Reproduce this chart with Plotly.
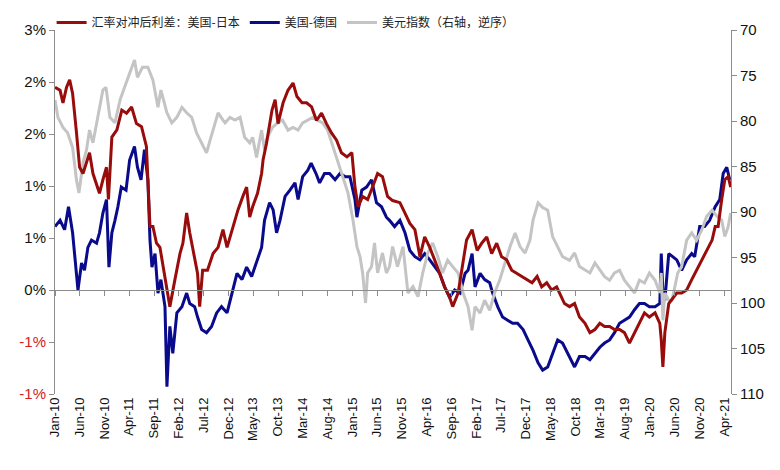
import plotly.graph_objects as go

# ---- data ----
jp_dates = ["2010-01-01","2010-02-01","2010-02-19","2010-03-13","2010-04-01","2010-04-19","2010-05-13","2010-06-01","2010-06-22","2010-07-13",
 "2010-08-01","2010-08-22","2010-09-16","2010-10-01","2010-10-22","2010-11-13","2010-11-25","2010-12-16","2011-01-16","2011-02-15",
 "2011-03-16","2011-04-16","2011-05-16","2011-06-16","2011-07-16","2011-08-07","2011-08-25","2011-09-16","2011-10-07","2011-11-07",
 "2011-12-07","2012-01-07","2012-02-07","2012-02-25","2012-03-19","2012-04-07","2012-04-25","2012-05-25","2012-06-07","2012-06-25",
 "2012-07-25","2012-08-28","2012-09-28","2012-10-28","2012-11-22","2012-12-28","2013-01-28","2013-02-27","2013-03-22","2013-04-10",
 "2013-04-28","2013-05-28","2013-06-22","2013-07-01","2013-07-22","2013-08-25","2013-09-13","2013-10-01","2013-11-01","2013-12-01",
 "2014-01-01","2014-01-25","2014-02-25","2014-03-25","2014-04-25","2014-05-25","2014-06-25","2014-07-25","2014-08-25","2014-09-25",
 "2014-10-25","2014-11-28","2014-12-28","2015-01-16","2015-02-04","2015-03-04","2015-04-04","2015-05-04","2015-06-04","2015-07-04",
 "2015-08-04","2015-09-04","2015-10-19","2015-11-19","2015-12-19","2016-01-19","2016-02-19","2016-03-19","2016-04-19","2016-05-19",
 "2016-06-19","2016-07-19","2016-08-19","2016-09-07","2016-10-10","2016-11-10","2016-12-01","2017-01-04","2017-02-04","2017-03-04",
 "2017-04-04","2017-05-04","2017-06-04","2017-07-04","2017-08-04","2017-09-04","2017-10-04","2017-11-04","2017-12-07","2018-01-07",
 "2018-02-07","2018-03-07","2018-04-07","2018-05-07","2018-06-07","2018-06-25","2018-07-25","2018-08-25","2018-09-25","2018-10-25",
 "2018-11-28","2018-12-28","2019-01-28","2019-02-27","2019-03-28","2019-04-28","2019-05-28","2019-06-28","2019-07-28","2019-08-28",
 "2019-09-28","2019-10-28","2019-11-28","2019-12-28","2020-02-01","2020-03-01","2020-03-10","2020-03-20","2020-04-01","2020-04-25",
 "2020-06-13","2020-07-13","2020-08-13","2020-09-13","2020-10-13","2020-11-13","2020-12-13","2021-01-16","2021-02-04","2021-02-22",
 "2021-03-16","2021-04-04","2021-04-25","2021-05-10"]
jp_spread = [1.95,1.92,1.80,1.95,2.02,1.89,1.51,1.18,1.12,1.22,
 1.32,1.12,0.99,0.93,1.06,1.18,0.87,1.47,1.54,1.73,
 1.70,1.76,1.60,1.57,1.38,0.61,0.61,0.45,0.41,0.10,
 -0.16,0.10,0.35,0.45,0.74,0.55,0.41,0.16,-0.16,0.19,
 0.19,0.35,0.41,0.58,0.41,0.61,0.77,0.90,0.99,0.70,
 0.80,0.93,1.12,1.25,1.41,1.73,1.83,1.60,1.80,1.92,
 1.99,1.86,1.80,1.80,1.76,1.63,1.70,1.60,1.51,1.44,
 1.32,1.28,1.32,0.99,0.80,0.90,0.87,0.99,1.12,1.09,
 0.90,0.86,0.84,0.74,0.64,0.58,0.32,0.51,0.41,0.29,
 0.16,0.03,-0.07,-0.16,-0.03,0.26,0.48,0.58,0.38,0.45,
 0.51,0.35,0.45,0.32,0.29,0.19,0.16,0.13,0.10,0.07,
 0.13,0.03,0.07,0.00,0.03,-0.03,-0.13,-0.16,-0.13,-0.26,
 -0.32,-0.41,-0.38,-0.32,-0.35,-0.35,-0.38,-0.38,-0.41,-0.51,
 -0.41,-0.32,-0.22,-0.26,-0.22,-0.32,-0.48,-0.74,-0.41,-0.13,
 -0.03,-0.03,0.00,0.10,0.19,0.29,0.38,0.48,0.61,0.61,
 0.87,1.06,1.09,0.99]

de_dates = ["2010-01-01","2010-02-01","2010-03-01","2010-03-25","2010-04-19","2010-05-13","2010-05-22","2010-06-13","2010-07-01","2010-07-22",
 "2010-08-13","2010-09-13","2010-10-01","2010-10-22","2010-11-13","2010-11-28","2010-12-16","2011-01-04","2011-01-22","2011-02-12",
 "2011-03-13","2011-04-04","2011-05-04","2011-05-22","2011-06-13","2011-07-04","2011-07-25","2011-08-07","2011-08-19","2011-09-07",
 "2011-09-25","2011-10-13","2011-11-07","2011-11-19","2011-12-07","2011-12-25","2012-01-19","2012-02-19","2012-03-19","2012-04-07",
 "2012-05-07","2012-05-25","2012-06-19","2012-07-19","2012-08-19","2012-09-19","2012-10-19","2012-11-22","2012-12-22","2013-01-22",
 "2013-02-22","2013-03-22","2013-04-22","2013-05-22","2013-06-22","2013-07-10","2013-08-10","2013-09-01","2013-09-22","2013-10-13",
 "2013-11-13","2013-12-13","2014-01-13","2014-02-01","2014-03-01","2014-04-01","2014-04-22","2014-05-22","2014-06-13","2014-07-13",
 "2014-08-13","2014-09-16","2014-10-16","2014-11-16","2014-12-16","2015-01-16","2015-01-28","2015-02-27","2015-03-28","2015-04-28",
 "2015-05-28","2015-06-28","2015-07-28","2015-08-16","2015-09-16","2015-10-19","2015-11-19","2015-12-19","2016-01-19","2016-02-19",
 "2016-03-19","2016-04-19","2016-05-19","2016-06-19","2016-07-19","2016-08-19","2016-09-19","2016-10-22","2016-11-22","2016-12-10",
 "2017-01-04","2017-01-22","2017-02-22","2017-03-22","2017-04-22","2017-05-10","2017-06-10","2017-07-10","2017-08-10","2017-09-10",
 "2017-10-10","2017-11-13","2017-12-13","2018-01-13","2018-02-13","2018-03-13","2018-04-13","2018-05-13","2018-06-13","2018-07-13",
 "2018-08-25","2018-09-25","2018-10-25","2018-11-28","2018-12-28","2019-01-28","2019-02-27","2019-03-28","2019-04-28","2019-05-28",
 "2019-06-28","2019-07-28","2019-08-28","2019-09-28","2019-10-28","2019-11-28","2019-12-28","2020-02-01","2020-03-01","2020-03-10",
 "2020-03-20","2020-04-01","2020-04-25","2020-06-13","2020-07-13","2020-08-13","2020-09-13","2020-10-01","2020-11-01","2020-12-01",
 "2021-01-01","2021-02-04","2021-03-04","2021-03-25","2021-04-16","2021-05-04"]
de_spread = [0.61,0.67,0.58,0.80,0.55,0.19,0.00,0.26,0.19,0.41,
 0.48,0.45,0.55,0.74,0.87,0.22,0.55,0.67,0.80,0.99,
 0.96,1.25,1.38,1.18,1.06,1.35,1.06,0.48,0.22,0.35,
 -0.03,0.10,-0.16,-0.93,-0.35,-0.61,-0.22,-0.16,-0.03,-0.13,
 -0.16,-0.26,-0.38,-0.41,-0.35,-0.22,-0.16,-0.22,-0.03,0.16,
 0.10,0.22,0.13,0.26,0.41,0.67,0.84,0.77,0.55,0.67,
 0.90,0.96,1.03,0.87,1.09,1.15,1.22,1.12,1.03,1.12,
 1.12,1.06,1.12,1.09,1.09,0.87,0.70,0.96,0.99,1.06,
 0.84,0.80,0.70,0.67,0.61,0.67,0.55,0.38,0.32,0.29,
 0.35,0.29,0.22,0.16,0.03,-0.07,0.00,-0.03,0.16,0.19,
 0.35,0.03,0.16,0.10,0.07,-0.03,-0.16,-0.26,-0.29,-0.32,
 -0.32,-0.38,-0.48,-0.58,-0.70,-0.77,-0.74,-0.61,-0.48,-0.51,
 -0.64,-0.74,-0.64,-0.64,-0.67,-0.61,-0.55,-0.51,-0.48,-0.41,
 -0.32,-0.29,-0.26,-0.19,-0.13,-0.13,-0.16,-0.16,-0.13,0.35,
 -0.03,-0.10,0.35,0.29,0.19,0.29,0.35,0.32,0.61,0.61,
 0.67,0.80,0.87,1.12,1.18,1.06]

dxy_dates = ["2010-01-01","2010-01-19","2010-02-19","2010-03-19","2010-04-19","2010-05-13","2010-05-28","2010-06-22","2010-07-13","2010-08-01",
 "2010-08-22","2010-09-22","2010-10-22","2010-11-10","2010-12-04","2011-01-04","2011-02-04","2011-03-04","2011-04-04","2011-05-04",
 "2011-05-22","2011-06-22","2011-07-25","2011-08-25","2011-09-25","2011-10-13","2011-11-19","2011-12-19","2012-01-19","2012-02-19",
 "2012-03-19","2012-04-19","2012-05-19","2012-06-19","2012-07-19","2012-08-10","2012-09-10","2012-09-28","2012-10-28","2012-11-10",
 "2012-12-10","2013-01-10","2013-02-10","2013-03-10","2013-04-10","2013-04-28","2013-05-22","2013-06-10","2013-06-22","2013-07-10",
 "2013-07-28","2013-08-28","2013-09-28","2013-10-28","2013-12-01","2014-01-01","2014-02-01","2014-03-01","2014-04-01","2014-05-01",
 "2014-06-01","2014-07-01","2014-08-01","2014-09-04","2014-10-04","2014-11-04","2014-12-04","2015-01-04","2015-01-28","2015-02-16",
 "2015-03-04","2015-03-22","2015-04-04","2015-04-28","2015-05-16","2015-06-04","2015-07-04","2015-07-28","2015-08-16","2015-09-04",
 "2015-10-04","2015-11-07","2015-12-07","2016-01-07","2016-02-07","2016-03-07","2016-04-07","2016-05-07","2016-06-07","2016-07-07",
 "2016-08-07","2016-09-07","2016-10-10","2016-11-10","2016-12-10","2017-01-04","2017-01-22","2017-02-22","2017-03-22","2017-04-22",
 "2017-05-22","2017-06-22","2017-07-25","2017-08-25","2017-09-25","2017-10-25","2017-11-25","2017-12-25","2018-01-13","2018-02-13",
 "2018-03-13","2018-04-13","2018-05-13","2018-06-13","2018-07-13","2018-08-25","2018-09-25","2018-10-25","2018-11-28","2018-12-28",
 "2019-01-28","2019-02-27","2019-03-28","2019-04-28","2019-05-28","2019-06-28","2019-07-28","2019-08-28","2019-09-28","2019-10-28",
 "2019-11-28","2019-12-28","2020-02-01","2020-03-01","2020-03-10","2020-03-20","2020-04-01","2020-04-25","2020-05-15","2020-06-19",
 "2020-07-13","2020-08-13","2020-09-13","2020-10-13","2020-11-13","2020-12-13","2021-01-16","2021-02-16","2021-03-16","2021-04-04",
 "2021-04-25","2021-05-10"]
dxy_index = [77.7,79.6,80.7,81.3,82.9,86.5,87.9,84.6,83.2,81.0,
 82.4,79.6,76.6,76.3,79.6,80.2,77.7,76.3,74.8,73.3,
 75.2,74.1,74.1,75.5,78.5,76.6,79.1,80.2,79.6,78.5,
 79.1,79.6,81.3,82.4,83.5,82.1,80.2,79.1,79.9,80.2,
 79.6,79.9,79.6,81.8,82.4,81.8,84.0,82.1,81.0,83.2,
 81.8,80.7,80.2,79.9,81.0,80.7,81.0,80.2,79.9,79.6,
 79.9,80.2,81.0,82.9,84.6,86.2,87.9,90.9,93.8,94.9,
 96.7,100.0,96.7,96.0,93.4,96.7,94.5,96.7,96.0,93.8,
 96.0,93.8,98.9,98.2,99.3,96.7,94.5,93.4,94.9,96.7,
 95.3,96.0,96.7,98.9,100.4,103.0,100.4,101.1,99.7,100.8,
 98.9,97.5,95.6,93.8,92.3,93.8,94.5,93.1,90.9,89.0,
 89.5,89.8,92.7,93.8,94.9,95.3,94.5,96.0,96.4,96.7,
 95.6,96.4,97.1,97.5,96.7,96.4,97.5,98.2,98.9,97.5,
 97.8,96.7,97.5,98.9,96.7,101.9,98.9,99.7,99.7,96.7,
 96.0,93.1,92.3,93.1,92.0,90.5,89.8,90.5,90.9,92.7,
 91.6,90.1]

series_names = ["汇率对冲后利差：美国-日本", "美国-德国", "美元指数（右轴，逆序）"]
series_colors = ["#980C0C", "#0A0A8C", "#C4C4C4"]

left_ticks = [-1.0, -0.5, 0.0, 0.5, 1.0, 1.5, 2.0, 2.5]
left_labels = ["-1%", "-1%", "0%", "1%", "1%", "2%", "2%", "3%"]
right_ticks = [70, 75, 80, 85, 90, 95, 100, 105, 110]
x_ticks = ["2010-01-01","2010-06-01","2010-11-01","2011-04-01","2011-09-01","2012-02-01","2012-07-01",
 "2012-12-01","2013-05-01","2013-10-01","2014-03-01","2014-08-01","2015-01-01","2015-06-01",
 "2015-11-01","2016-04-01","2016-09-01","2017-02-01","2017-07-01","2017-12-01","2018-05-01",
 "2018-10-01","2019-03-01","2019-08-01","2020-01-01","2020-06-01","2020-11-01","2021-04-01"]
x_range = ["2010-01-01", "2021-05-12"]
y_range = [-1.0, 2.5]

# ---- figure ----
fig = go.Figure()
fig.add_trace(go.Scatter(x=jp_dates, y=jp_spread, name=series_names[0], mode="lines",
                         line=dict(color=series_colors[0], width=3), xaxis="x2", yaxis="y"))
fig.add_trace(go.Scatter(x=de_dates, y=de_spread, name=series_names[1], mode="lines",
                         line=dict(color=series_colors[1], width=3), xaxis="x", yaxis="y"))
fig.add_trace(go.Scatter(x=dxy_dates, y=dxy_index, name=series_names[2], mode="lines",
                         line=dict(color=series_colors[2], width=3), xaxis="x", yaxis="y2"))

neg_color = "#D42020"
ticktext = [f'<span style="color:{neg_color}">{t}</span>' if v < 0 else t
            for v, t in zip(left_ticks, left_labels)]

axis_color = "#8C8C8C"
zero_pos = (0 - y_range[0]) / (y_range[1] - y_range[0])
m_top, m_bot = 22, 84
plot_h = 470 - m_top - m_bot
legend_top = 1 + m_top / plot_h

fig.update_layout(
    width=780, height=470,
    margin=dict(l=47, r=57, t=m_top, b=m_bot, autoexpand=False),
    paper_bgcolor="white", plot_bgcolor="white",
    font=dict(family="Liberation Sans, Arial, sans-serif", color="#111111"),
    showlegend=True,
    legend=dict(orientation="h", x=-0.005, xanchor="left", y=legend_top, yanchor="top",
                font=dict(family="Noto Sans CJK SC", size=12, color="#222222"),
                itemwidth=30, tracegroupgap=0, bgcolor="rgba(0,0,0,0)", borderwidth=0),
    xaxis=dict(type="date", range=x_range, tickvals=x_ticks, tickformat="%b-%y",
               tickangle=-90, showgrid=False, showline=False, ticks="", zeroline=False,
               tickfont=dict(size=13, color="#111111"), anchor="y"),
    xaxis2=dict(type="date", range=x_range, tickvals=x_ticks, overlaying="x", matches="x",
                anchor="free", position=zero_pos, showticklabels=False, showgrid=False,
                showline=True, linecolor=axis_color, linewidth=1,
                ticks="outside", ticklen=5, tickcolor=axis_color, zeroline=False),
    yaxis=dict(range=y_range, tickvals=left_ticks, ticktext=ticktext, showgrid=False,
               zeroline=False, showline=True, linecolor=axis_color, linewidth=1,
               ticks="outside", ticklen=5, tickcolor=axis_color,
               tickfont=dict(size=15, color="#111111")),
    yaxis2=dict(range=[110, 70], tickvals=right_ticks, overlaying="y", side="right",
                anchor="x", showgrid=False, zeroline=False, showline=True,
                linecolor=axis_color, linewidth=1, ticks="outside", ticklen=5,
                tickcolor=axis_color, tickfont=dict(size=15, color="#111111")),
)

fig.write_html("out.html")
